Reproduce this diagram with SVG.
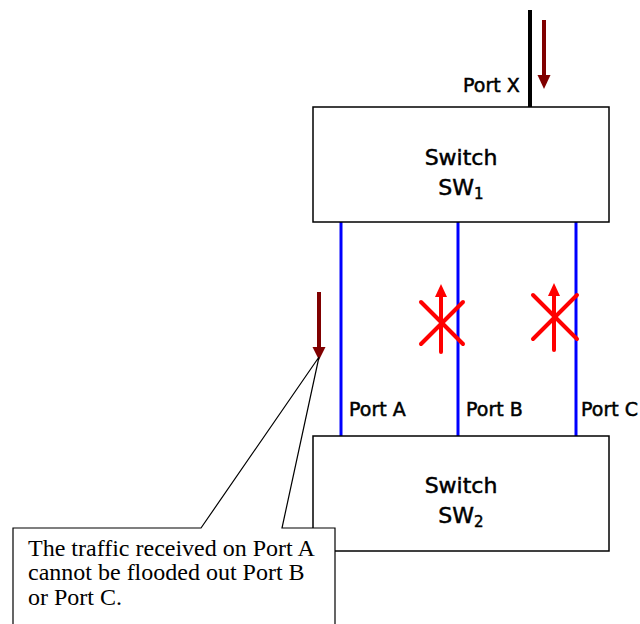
<svg xmlns="http://www.w3.org/2000/svg" width="640" height="624" viewBox="0 0 640 624">
<defs>
<style>
.box{fill:#fff;stroke:#000;stroke-width:1.5}
.lbl{font-family:"DejaVu Sans",sans-serif;font-size:22px;fill:#000;stroke:#000;stroke-width:0.5;text-anchor:middle}
.port{font-family:"DejaVu Sans",sans-serif;font-size:19px;fill:#000;stroke:#000;stroke-width:0.5}
.link{stroke:#0000ff;stroke-width:3;fill:none}
.red{stroke:#ff0000;stroke-width:4;fill:none;stroke-linecap:round}
.dred{stroke:#800000;stroke-width:4;fill:none}
.note{font-family:"Liberation Serif","Times New Roman",serif;font-size:24px;fill:#000}
</style>
</defs>
<g id="connectors">
<line x1="530" y1="10" x2="530" y2="107" stroke="#000" stroke-width="4"/>
<line class="link" x1="341" y1="222" x2="341" y2="436"/>
<line class="link" x1="458" y1="222" x2="458" y2="436"/>
<line class="link" x1="576" y1="222" x2="576" y2="436"/>
</g>
<g id="sw1">
<rect class="box" x="313" y="107" width="296" height="115"/>
<text class="lbl" x="461" y="165">Switch</text>
<text class="lbl" x="461" y="195">SW<tspan font-size="15" dy="4">1</tspan></text>
</g>
<g id="sw2">
<rect class="box" x="313" y="436" width="296" height="115"/>
<text class="lbl" x="461" y="493">Switch</text>
<text class="lbl" x="461" y="523">SW<tspan font-size="15" dy="4">2</tspan></text>
</g>
<g id="ports">
<text class="port" x="463" y="92">Port X</text>
<text class="port" x="349" y="416">Port A</text>
<text class="port" x="466" y="416">Port B</text>
<text class="port" x="581" y="416">Port C</text>
</g>
<g id="traffic-in">
<line class="dred" x1="544" y1="20" x2="544" y2="76"/>
<polygon points="537.5,75 550.5,75 544,89" fill="#800000"/>
<line class="dred" x1="319" y1="292" x2="319" y2="348"/>
<polygon points="312.5,347 325.5,347 319,360" fill="#800000"/>
</g>
<g id="blocked-b">
<line class="red" x1="441" y1="352" x2="441" y2="295"/>
<polygon points="435,297 447,297 441,284" fill="#ff0000"/>
<line class="red" x1="421" y1="302" x2="463" y2="344"/>
<line class="red" x1="421" y1="344" x2="463" y2="302"/>
</g>
<g id="blocked-c">
<line class="red" x1="554" y1="350" x2="554" y2="294"/>
<polygon points="548,296 560,296 554,283" fill="#ff0000"/>
<line class="red" x1="533" y1="295" x2="577" y2="339"/>
<line class="red" x1="533" y1="339" x2="577" y2="295"/>
</g>
<g id="callout">
<polygon points="13,528 201,528 319,357 282,528 335,528 335,630 13,630" fill="#fff" stroke="#000" stroke-width="1.2"/>
<text class="note" x="28" y="556">The traffic received on Port A</text>
<text class="note" x="28" y="580">cannot be flooded out Port B</text>
<text class="note" x="28" y="605">or Port C.</text>
</g>
</svg>
